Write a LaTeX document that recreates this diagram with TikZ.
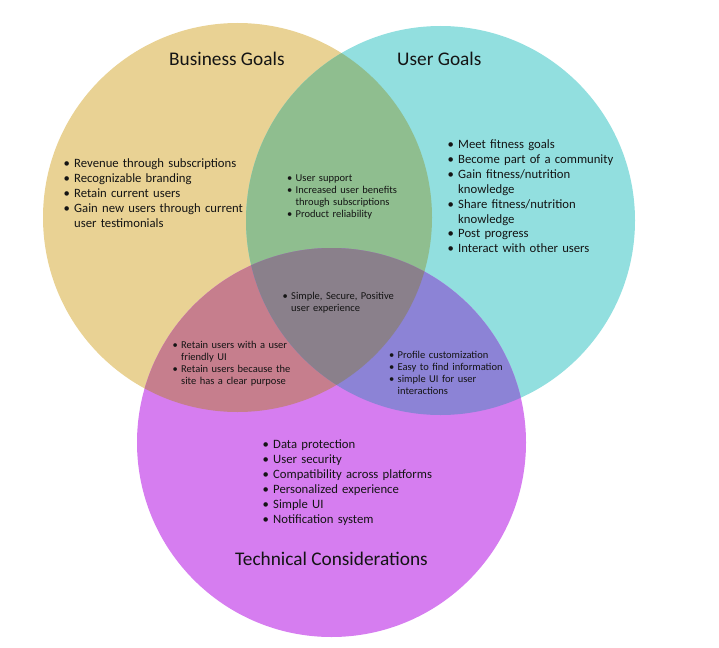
\documentclass[tikz,border=0pt]{standalone}
\usepackage{fontspec}
\setmainfont{Carlito}
\usetikzlibrary{positioning}
\definecolor{bizfill}{RGB}{233,210,148}
\definecolor{userfill}{RGB}{146,223,223}
\definecolor{techfill}{RGB}{214,125,240}
\definecolor{bufill}{RGB}{143,190,143}
\definecolor{btfill}{RGB}{198,126,141}
\definecolor{utfill}{RGB}{140,131,214}
\definecolor{allfill}{RGB}{138,128,139}
\definecolor{ink}{RGB}{20,20,20}
\newlength{\bulind}
\newlength{\topht}
\newcommand{\itm}[1]{\par\noindent\rule{0pt}{\topht}\makebox[\bulind][l]{\textbullet}%
  \parbox[t]{\dimexpr\linewidth-\bulind\relax}{\raggedright #1}}
\newcommand{\bizc}{(237.5,217.5) circle[radius=194.5pt]}
\newcommand{\userc}{(440.5,220.5) circle[radius=194.5pt]}
\newcommand{\techc}{(331.5,442.5) circle[radius=194.5pt]}
\tikzset{
  title/.style    = {inner sep=0, anchor=base west, text=ink, font=\fontsize{19.3}{22}\selectfont},
  biglist/.style  = {inner sep=0, anchor=north west, text width=200pt, align=left, text=ink,
                     font=\fontsize{12.7}{15}\selectfont\setlength{\bulind}{10.5pt}\setlength{\topht}{11pt}},
  smalllist/.style= {inner sep=0, anchor=north west, text width=150pt, align=left, text=ink,
                     font=\fontsize{10.5}{12}\selectfont\setlength{\bulind}{8.5pt}\setlength{\topht}{9pt}},
}
\begin{document}
\begin{tikzpicture}[x=1pt,y=-1pt]
  \useasboundingbox (0,0) rectangle (719,647);
  \fill[bizfill] \bizc;
  \fill[userfill] \userc;
  \fill[techfill] \techc;
  \begin{scope}\clip \bizc; \fill[bufill] \userc; \fill[btfill] \techc; \end{scope}
  \begin{scope}\clip \userc; \fill[utfill] \techc; \end{scope}
  \begin{scope}\clip \bizc; \clip \userc; \fill[allfill] \techc; \end{scope}

  \node[title] (biztitle) at (169,66) {Business Goals};
  \node[title] (usertitle) at (397,66) {User Goals};
  \node[title] (techtitle) at (235,565) {Technical Considerations};

  \node[biglist] (bizlist) at (63.5,152.5) {\itm{Revenue through subscriptions}
    \itm{Recognizable branding}\itm{Retain current users}
    \itm{Gain new users through current\\ user testimonials}};
  \node[biglist] (userlist) at (447.5,133.7) {\itm{Meet fitness goals}
    \itm{Become part of a community}\itm{Gain fitness/nutrition\\ knowledge}
    \itm{Share fitness/nutrition\\ knowledge}\itm{Post progress}
    \itm{Interact with other users}};
  \node[biglist] (techlist) at (262.5,433.3) {\itm{Data protection}\itm{User security}
    \itm{Compatibility across platforms}\itm{Personalized experience}
    \itm{Simple UI}\itm{Notification system}};

  \node[smalllist] (bulist) at (287,169.2) {\itm{User support}
    \itm{Increased user benefits\\ through subscriptions}\itm{Product reliability}};
  \node[smalllist] (alllist) at (282.5,287.5) {\itm{Simple, Secure, Positive\\ user experience}};
  \node[smalllist] (btlist) at (172.5,336.5) {\itm{Retain users with a user\\ friendly UI}
    \itm{Retain users because the\\ site has a clear purpose}};
  \node[smalllist] (utlist) at (389,345.8) {\itm{Profile customization}
    \itm{Easy to find information}\itm{simple UI for user\\ interactions}};
\end{tikzpicture}
\end{document}
